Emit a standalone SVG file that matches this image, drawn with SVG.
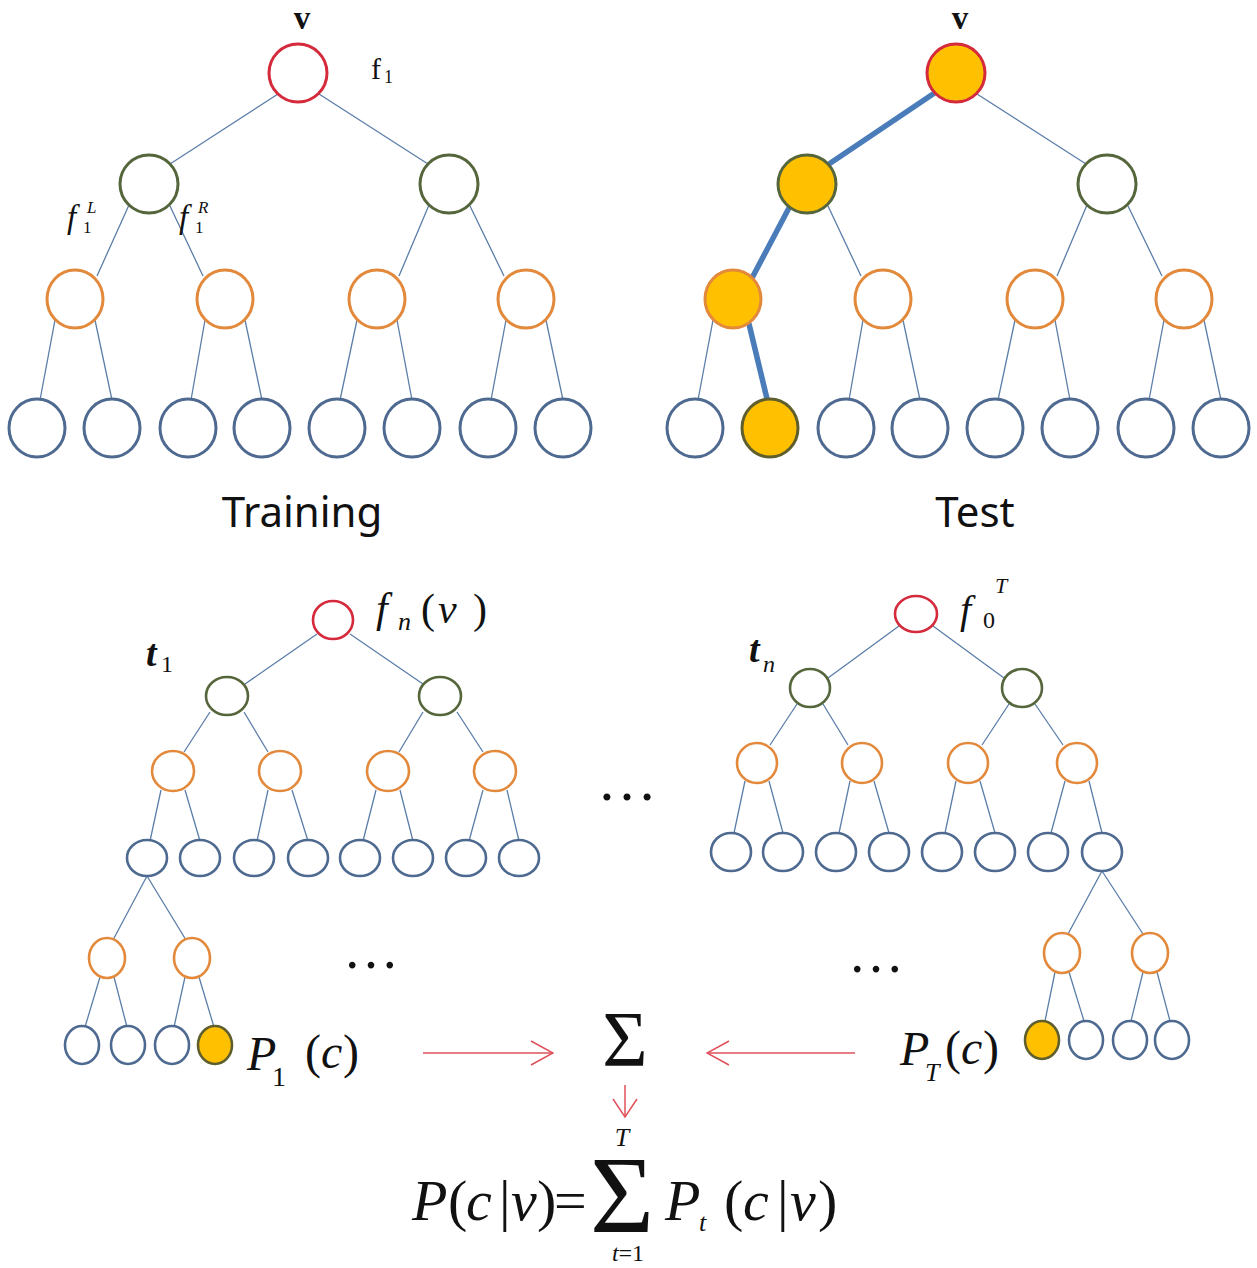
<svg xmlns="http://www.w3.org/2000/svg" width="1257" height="1268" viewBox="0 0 1257 1268">
<style>
.e{stroke:#5b7ea8;stroke-width:1.3;fill:none}
.thick{stroke:#4a7cba;stroke-width:5.5;fill:none;stroke-linecap:round}
.r{fill:#fff;stroke:#d42a3c;stroke-width:3}
.g{fill:#fff;stroke:#56663c;stroke-width:3}
.o{fill:#fff;stroke:#e3893c;stroke-width:3}
.b{fill:#fff;stroke:#4e6a90;stroke-width:3}
.sm{stroke-width:2.6}
.y{fill:#ffc000}
.yl{fill:#ffc000;stroke:#5f5f2e}
.arr{stroke:#e0505a;stroke-width:1.5;fill:none}
.serif{font-family:"Liberation Serif","DejaVu Serif",serif;fill:#111}
.it{font-style:italic}
.up{font-style:normal}
.sans{font-family:"Noto Sans","Open Sans",sans-serif;fill:#111}
</style>
<defs>
<marker id="ah" viewBox="0 0 24 26" refX="23" refY="13" markerWidth="24" markerHeight="26" markerUnits="userSpaceOnUse" orient="auto">
<path d="M1,1 L23,13 L1,25" fill="none" stroke="#e0505a" stroke-width="1.5"/>
</marker>
<marker id="ah2" viewBox="0 0 20 26" refX="19" refY="13" markerWidth="20" markerHeight="26" markerUnits="userSpaceOnUse" orient="auto">
<path d="M1,1 L19,13 L1,25" fill="none" stroke="#e0505a" stroke-width="1.5"/>
</marker>
</defs>
<rect width="1257" height="1268" fill="#fff"/>

<g id="connectors">
<path class="e" d="M278,94 L170,164 M319,94 L428,164
M129,205 L97,276 M170,206 L203,276 M429,205 L399,276 M470,206 L504,276
M55,320 L40,400 M95,320 L112,400 M205,320 L191,400 M245,320 L262,400
M357,320 L340,400 M397,320 L412,400 M506,320 L491,400 M546,320 L563,400"/>
<path class="e" d="M977,94 L1086,164
M828,206 L861,276 M1087,205 L1057,276 M1128,206 L1162,276
M713,320 L698,400 M863,320 L849,400 M903,320 L920,400
M1015,320 L998,400 M1055,320 L1070,400 M1164,320 L1149,400 M1204,320 L1221,400"/>
<path class="thick" d="M936,92 L826,166 M790,206 L752,278 M749,324 L768,403"/>
<path class="e" d="M317,634 L245,684 M350,634 L423,684
M210,712 L184,752 M244,712 L268,752 M423,712 L399,752 M457,712 L483,752
M161,790 L150,841 M185,790 L200,841 M268,790 L257,841 M292,790 L308,841
M376,790 L363,841 M400,790 L413,841 M483,790 L469,841 M507,790 L519,841
M147,876 L113,940 M147,876 L186,940
M100,977 L85,1027 M114,977 L127,1027 M185,977 L174,1027 M199,977 L214,1027"/>
<path class="e" d="M899,626 L828,678 M933,626 L1004,678
M797,704 L770,745 M823,704 L848,745 M1009,704 L982,745 M1035,704 L1063,745
M745,781 L734,833 M769,781 L783,833 M850,781 L839,833 M874,781 L889,833
M956,781 L945,833 M980,781 L995,833 M1065,781 L1051,833 M1089,781 L1102,833
M1102,871 L1068,934 M1102,871 L1143,934
M1055,972 L1045,1021 M1069,972 L1084,1021 M1143,972 L1131,1021 M1157,972 L1170,1021"/>
<line class="arr" x1="423" y1="1053" x2="553" y2="1053" marker-end="url(#ah)"/>
<line class="arr" x1="855" y1="1053" x2="707" y2="1053" marker-end="url(#ah)"/>
<line class="arr" x1="625" y1="1085" x2="625" y2="1117" marker-end="url(#ah2)"/>
</g>

<g id="tr-root"><ellipse class="r" cx="298" cy="73" rx="29" ry="29"/></g>
<g id="tr-l2a"><ellipse class="g" cx="149" cy="184" rx="29" ry="29"/></g>
<g id="tr-l2b"><ellipse class="g" cx="449" cy="184" rx="29" ry="29"/></g>
<g id="tr-l3a"><ellipse class="o" cx="75" cy="299" rx="28" ry="29"/></g>
<g id="tr-l3b"><ellipse class="o" cx="225" cy="299" rx="28" ry="29"/></g>
<g id="tr-l3c"><ellipse class="o" cx="377" cy="299" rx="28" ry="29"/></g>
<g id="tr-l3d"><ellipse class="o" cx="526" cy="299" rx="28" ry="29"/></g>
<g id="tr-l4a"><ellipse class="b" cx="37" cy="428" rx="28" ry="29"/></g>
<g id="tr-l4b"><ellipse class="b" cx="112" cy="428" rx="28" ry="29"/></g>
<g id="tr-l4c"><ellipse class="b" cx="188" cy="428" rx="28" ry="29"/></g>
<g id="tr-l4d"><ellipse class="b" cx="262" cy="428" rx="28" ry="29"/></g>
<g id="tr-l4e"><ellipse class="b" cx="337" cy="428" rx="28" ry="29"/></g>
<g id="tr-l4f"><ellipse class="b" cx="412" cy="428" rx="28" ry="29"/></g>
<g id="tr-l4g"><ellipse class="b" cx="488" cy="428" rx="28" ry="29"/></g>
<g id="tr-l4h"><ellipse class="b" cx="563" cy="428" rx="28" ry="29"/></g>

<g id="te-root"><ellipse class="r y" cx="956" cy="73" rx="29" ry="29"/></g>
<g id="te-l2a"><ellipse class="g y" cx="807" cy="184" rx="29" ry="29"/></g>
<g id="te-l2b"><ellipse class="g" cx="1107" cy="184" rx="29" ry="29"/></g>
<g id="te-l3a"><ellipse class="o y" cx="733" cy="299" rx="28" ry="29"/></g>
<g id="te-l3b"><ellipse class="o" cx="883" cy="299" rx="28" ry="29"/></g>
<g id="te-l3c"><ellipse class="o" cx="1035" cy="299" rx="28" ry="29"/></g>
<g id="te-l3d"><ellipse class="o" cx="1184" cy="299" rx="28" ry="29"/></g>
<g id="te-l4a"><ellipse class="b" cx="695" cy="428" rx="28" ry="29"/></g>
<g id="te-l4b"><ellipse class="b yl" cx="770" cy="428" rx="28" ry="29"/></g>
<g id="te-l4c"><ellipse class="b" cx="846" cy="428" rx="28" ry="29"/></g>
<g id="te-l4d"><ellipse class="b" cx="920" cy="428" rx="28" ry="29"/></g>
<g id="te-l4e"><ellipse class="b" cx="995" cy="428" rx="28" ry="29"/></g>
<g id="te-l4f"><ellipse class="b" cx="1070" cy="428" rx="28" ry="29"/></g>
<g id="te-l4g"><ellipse class="b" cx="1146" cy="428" rx="28" ry="29"/></g>
<g id="te-l4h"><ellipse class="b" cx="1221" cy="428" rx="28" ry="29"/></g>

<g id="t1-root"><ellipse class="r sm" cx="333" cy="620" rx="20" ry="19"/></g>
<g id="t1-l2a"><ellipse class="g sm" cx="227" cy="696" rx="21" ry="19"/></g>
<g id="t1-l2b"><ellipse class="g sm" cx="440" cy="696" rx="21" ry="19"/></g>
<g id="t1-l3a"><ellipse class="o sm" cx="173" cy="771" rx="21" ry="20"/></g>
<g id="t1-l3b"><ellipse class="o sm" cx="280" cy="771" rx="21" ry="20"/></g>
<g id="t1-l3c"><ellipse class="o sm" cx="388" cy="771" rx="21" ry="20"/></g>
<g id="t1-l3d"><ellipse class="o sm" cx="495" cy="771" rx="21" ry="20"/></g>
<g id="t1-l4a"><ellipse class="b sm" cx="147" cy="858" rx="20" ry="18"/></g>
<g id="t1-l4b"><ellipse class="b sm" cx="200" cy="858" rx="20" ry="18"/></g>
<g id="t1-l4c"><ellipse class="b sm" cx="254" cy="858" rx="20" ry="18"/></g>
<g id="t1-l4d"><ellipse class="b sm" cx="308" cy="858" rx="20" ry="18"/></g>
<g id="t1-l4e"><ellipse class="b sm" cx="360" cy="858" rx="20" ry="18"/></g>
<g id="t1-l4f"><ellipse class="b sm" cx="413" cy="858" rx="20" ry="18"/></g>
<g id="t1-l4g"><ellipse class="b sm" cx="466" cy="858" rx="20" ry="18"/></g>
<g id="t1-l4h"><ellipse class="b sm" cx="519" cy="858" rx="20" ry="18"/></g>
<g id="t1-s-oa"><ellipse class="o sm" cx="107" cy="958" rx="18" ry="20"/></g>
<g id="t1-s-ob"><ellipse class="o sm" cx="192" cy="958" rx="18" ry="20"/></g>
<g id="t1-s-la"><ellipse class="b sm" cx="82" cy="1045" rx="17" ry="19"/></g>
<g id="t1-s-lb"><ellipse class="b sm" cx="128" cy="1045" rx="17" ry="19"/></g>
<g id="t1-s-lc"><ellipse class="b sm" cx="172" cy="1045" rx="17" ry="19"/></g>
<g id="t1-s-ld"><ellipse class="b sm yl" cx="215" cy="1045" rx="17" ry="19"/></g>

<g id="tn-root"><ellipse class="r sm" cx="916" cy="614" rx="21" ry="18"/></g>
<g id="tn-l2a"><ellipse class="g sm" cx="810" cy="688" rx="20" ry="19"/></g>
<g id="tn-l2b"><ellipse class="g sm" cx="1022" cy="688" rx="20" ry="19"/></g>
<g id="tn-l3a"><ellipse class="o sm" cx="757" cy="763" rx="20" ry="20"/></g>
<g id="tn-l3b"><ellipse class="o sm" cx="862" cy="763" rx="20" ry="20"/></g>
<g id="tn-l3c"><ellipse class="o sm" cx="968" cy="763" rx="20" ry="20"/></g>
<g id="tn-l3d"><ellipse class="o sm" cx="1077" cy="763" rx="20" ry="20"/></g>
<g id="tn-l4a"><ellipse class="b sm" cx="731" cy="852" rx="20" ry="19"/></g>
<g id="tn-l4b"><ellipse class="b sm" cx="783" cy="852" rx="20" ry="19"/></g>
<g id="tn-l4c"><ellipse class="b sm" cx="836" cy="852" rx="20" ry="19"/></g>
<g id="tn-l4d"><ellipse class="b sm" cx="889" cy="852" rx="20" ry="19"/></g>
<g id="tn-l4e"><ellipse class="b sm" cx="942" cy="852" rx="20" ry="19"/></g>
<g id="tn-l4f"><ellipse class="b sm" cx="995" cy="852" rx="20" ry="19"/></g>
<g id="tn-l4g"><ellipse class="b sm" cx="1048" cy="852" rx="20" ry="19"/></g>
<g id="tn-l4h"><ellipse class="b sm" cx="1102" cy="852" rx="20" ry="19"/></g>
<g id="tn-s-oa"><ellipse class="o sm" cx="1062" cy="953" rx="18" ry="20"/></g>
<g id="tn-s-ob"><ellipse class="o sm" cx="1150" cy="953" rx="18" ry="20"/></g>
<g id="tn-s-la"><ellipse class="b sm yl" cx="1042" cy="1040" rx="17" ry="19"/></g>
<g id="tn-s-lb"><ellipse class="b sm" cx="1086" cy="1040" rx="17" ry="19"/></g>
<g id="tn-s-lc"><ellipse class="b sm" cx="1130" cy="1040" rx="17" ry="19"/></g>
<g id="tn-s-ld"><ellipse class="b sm" cx="1172" cy="1040" rx="17" ry="19"/></g>

<g id="labels">
<text class="serif" x="302" y="29" font-size="33" font-weight="bold" text-anchor="middle">v</text>
<text class="serif" x="960" y="29" font-size="33" font-weight="bold" text-anchor="middle">v</text>
<text class="serif" x="371" y="79" font-size="30">f<tspan font-size="18" x="384" y="83">1</tspan></text>
<text class="serif it" x="67" y="228" font-size="33">f<tspan class="up" font-size="17" x="83" y="233">1</tspan><tspan font-size="17" x="87" y="213">L</tspan></text>
<text class="serif it" x="179" y="228" font-size="33">f<tspan class="up" font-size="17" x="195" y="233">1</tspan><tspan font-size="17" x="198" y="213">R</tspan></text>
<text class="sans" x="302" y="527" font-size="42" text-anchor="middle">Training</text>
<text class="sans" x="975" y="527" font-size="42" text-anchor="middle">Test</text>

<text class="serif it" x="376" y="622" font-size="42">f<tspan font-size="26" x="398" y="630">n</tspan><tspan class="up" x="421" y="623">(</tspan><tspan x="438" y="623">v</tspan><tspan class="up" x="473" y="623">)</tspan></text>
<text class="serif it" x="146" y="666" font-size="38" font-weight="bold">t<tspan font-size="24" font-weight="normal" class="up" x="161" y="672">1</tspan></text>
<text class="serif it" x="749" y="662" font-size="38" font-weight="bold">t<tspan font-size="24" font-weight="normal" x="763" y="672">n</tspan></text>
<text class="serif it" x="960" y="623" font-size="40">f<tspan font-size="24" class="up" x="983" y="628">0</tspan><tspan font-size="22" x="995" y="593">T</tspan></text>

<text class="serif" x="627" y="800" font-size="60" text-anchor="middle">…</text>
<text class="serif" x="371" y="968" font-size="56" text-anchor="middle">…</text>
<text class="serif" x="876" y="972" font-size="56" text-anchor="middle">…</text>

<text class="serif it" x="247" y="1070" font-size="48">P<tspan font-size="28" class="up" x="272" y="1086">1</tspan><tspan class="up" x="305" y="1068">(</tspan><tspan x="321" y="1068">c</tspan><tspan class="up" x="343" y="1068">)</tspan></text>
<text class="serif it" x="900" y="1065" font-size="48">P<tspan font-size="26" x="925" y="1081">T</tspan><tspan class="up" x="945" y="1064">(</tspan><tspan x="961" y="1064">c</tspan><tspan class="up" x="983" y="1064">)</tspan></text>
<text class="serif" x="625" y="1065" font-size="78" text-anchor="middle">Σ</text>

<text class="serif it" x="412" y="1220" font-size="58">P<tspan class="up" x="448">(</tspan><tspan x="466">c</tspan><tspan class="up" x="499">|</tspan><tspan x="511">v</tspan><tspan class="up" x="537">)</tspan><tspan class="up" x="554">=</tspan></text>
<text class="serif" x="622" y="1232" font-size="110" text-anchor="middle">Σ</text>
<text class="serif it" x="622" y="1146" font-size="26" text-anchor="middle">T</text>
<text class="serif it" x="628" y="1261" font-size="24" text-anchor="middle">t<tspan class="up">=1</tspan></text>
<text class="serif it" x="665" y="1220" font-size="58">P<tspan font-size="26" x="699" y="1231">t</tspan><tspan class="up" x="724" y="1220">(</tspan><tspan x="743">c</tspan><tspan class="up" x="777">|</tspan><tspan x="790">v</tspan><tspan class="up" x="818">)</tspan></text>
</g>
</svg>
